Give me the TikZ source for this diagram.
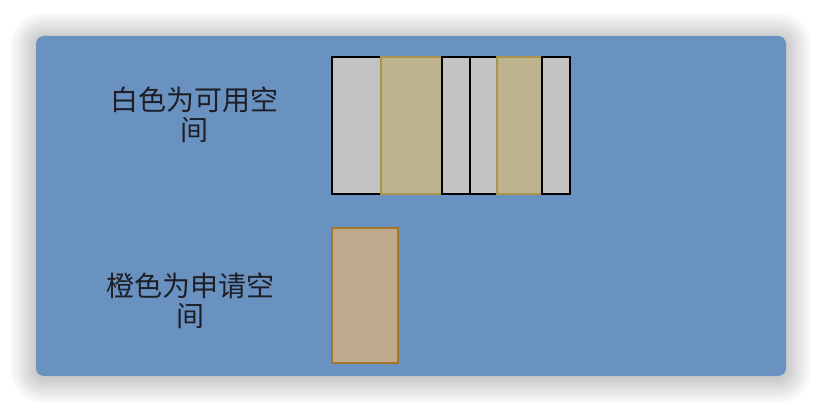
\documentclass[tikz,border=0pt]{standalone}
\usepackage{fontspec}
\setmainfont{Noto Sans CJK SC}
\usetikzlibrary{positioning}
\definecolor{panelBlue}{RGB}{106,146,192}
\definecolor{slotGray}{RGB}{195,195,195}
\definecolor{usedTan}{RGB}{189,179,143}
\definecolor{usedTanLine}{RGB}{170,148,78}
\definecolor{reqOrange}{RGB}{191,170,142}
\definecolor{reqOrangeLine}{RGB}{165,118,42}
\definecolor{textDark}{RGB}{30,30,38}

\begin{document}
\begin{tikzpicture}[
                x=1pt, y=-1pt,
                seg/.style={rectangle, draw=black, fill=slotGray, line width=1.6pt, minimum height=137pt, inner sep=0pt, outer sep=0pt},
                used/.style={seg, draw=usedTanLine, fill=usedTan},
                req/.style={rectangle, draw=reqOrangeLine, fill=reqOrange, line width=2pt, minimum width=66pt, minimum height=135pt, inner sep=0pt, outer sep=0pt},
                caption/.style={align=center, text=textDark, font=\fontsize{28pt}{30pt}\selectfont}
            ]
                \useasboundingbox (0,0) rectangle (822,412);
                % soft shadow and panel
                \foreach \d [evaluate=\d as \r using 8+\d] in {1,...,26}
                    \fill[black, opacity=0.008, rounded corners=\r pt] (36-\d,38-\d) rectangle (786+\d,378+\d);
                \fill[panelBlue, rounded corners=8pt] (36,36) rectangle (786,376);

                \node[caption] (freeTxt) at (194,115) {白色为可用空\\间};
                \node[caption] (reqTxt) at (190,301) {橙色为申请空\\间};

                \node[seg, minimum width=49pt, anchor=north west] (s1) at (332,57) {};
                \node[used, minimum width=61pt, right=0pt of s1] (s2) {};
                \node[seg, minimum width=28pt, right=0pt of s2] (s3) {};
                \node[seg, minimum width=27pt, right=0pt of s3] (s4) {};
                \node[used, minimum width=45pt, right=0pt of s4] (s5) {};
                \node[seg, minimum width=28pt, right=0pt of s5] (s6) {};

                \node[req, below right=34pt and 0pt of s1.south west] (reqBox) {};
            \end{tikzpicture}
\end{document}
